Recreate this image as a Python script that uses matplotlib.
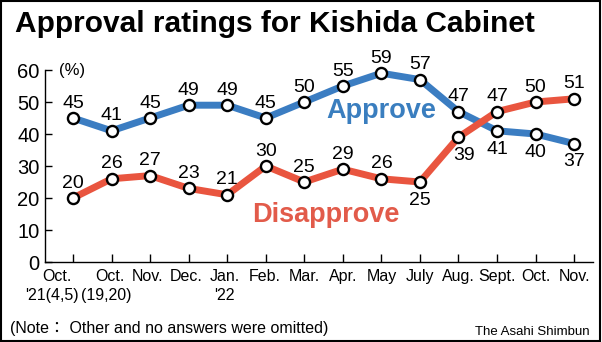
import matplotlib.pyplot as plt
from matplotlib.patches import Rectangle

plt.rcParams['font.family'] = ['Liberation Sans', 'DejaVu Sans']

months = ["Oct.", "Oct.", "Nov.", "Dec.", "Jan.", "Feb.",
          "Mar.", "Apr.", "May", "July", "Aug.", "Sept.", "Oct.", "Nov."]
month_sub = ["'21(4,5)", "(19,20)", "", "", "'22", "", "", "", "", "", "", "", "", ""]
approve = [45, 41, 45, 49, 49, 45, 50, 55, 59, 57, 47, 41, 40, 37]
disapprove = [20, 26, 27, 23, 21, 30, 25, 29, 26, 25, 39, 47, 50, 51]

# which side of the point each value label sits on (1 above, -1 below)
approve_side = [1] * 11 + [-1] * 3
disapprove_side = [1] * 9 + [-1, -1] + [1] * 3

blue = "#3b7dc2"
red = "#e9553f"

fig = plt.figure(figsize=(6.02, 3.42), dpi=100)
ax = fig.add_axes([45 / 602, 80 / 342, 548 / 602, 192 / 342])

x = list(range(len(months)))

ax.plot(x, approve, color=blue, lw=5, solid_joinstyle="round", zorder=2)
ax.plot(x, disapprove, color=red, lw=5, solid_joinstyle="round", zorder=3)
for vals in (approve, disapprove):
    ax.plot(x, vals, "o", ms=8, mfc="white", mec="black", mew=1.7,
            zorder=4, clip_on=False)

def put_labels(vals, sides, dx=None):
    for i, (v, s) in enumerate(zip(vals, sides)):
        off_x = dx[i] if dx else 0
        if s > 0:
            ax.annotate(str(v), (i, v), xytext=(off_x, 7.5), textcoords="offset points",
                        ha="center", va="baseline", fontsize=14, zorder=5)
        else:
            ax.annotate(str(v), (i, v), xytext=(off_x, -7), textcoords="offset points",
                        ha="center", va="top", fontsize=14, zorder=5)

put_labels(approve, approve_side)
dis_dx = [0] * 10 + [4, 0, 0, 0]
put_labels(disapprove, disapprove_side, dis_dx)

ax.text(8.0, 45, "Approve", color="#3a7ebf", fontsize=19.5, fontweight="bold",
        ha="center", va="baseline")
ax.text(6.57, 12.5, "Disapprove", color="#e25b4a", fontsize=19.5, fontweight="bold",
        ha="center", va="baseline")

ax.set_xlim(-0.727, 13.49)
ax.set_ylim(0, 60)
for sp in ("top", "right"):
    ax.spines[sp].set_visible(False)
ax.spines["left"].set_linewidth(1)
ax.spines["bottom"].set_linewidth(1)

ax.set_yticks(range(0, 61, 10))
ax.tick_params(axis="y", direction="in", length=5, width=1, labelsize=14.5, pad=4)
ax.set_xticks(x)
ax.tick_params(axis="x", direction="in", length=6, width=1, labelbottom=False)

# month labels below the axis (horizontal nudges in pixels)
label_dx = [-16, -2, -3, -2, -2, -1, 0, 0, 0, 0, 0, 0, 0, 0]
sub_dx = [-21, -5, 0, 0, -3, 0, 0, 0, 0, 0, 0, 0, 0, 0]
for i, (lab, sub) in enumerate(zip(months, month_sub)):
    ax.annotate(lab, (i, 0), xycoords=("data", "axes fraction"),
                xytext=(label_dx[i] * 0.72, -5), textcoords="offset points",
                ha="center", va="top", fontsize=11.5)
    if sub:
        ax.annotate(sub, (i, 0), xycoords=("data", "axes fraction"),
                    xytext=(sub_dx[i] * 0.72, -19), textcoords="offset points",
                    ha="center", va="top", fontsize=11.5)

ax.annotate("(%)", (0, 60), xycoords=("axes fraction", "data"),
            xytext=(10, 0), textcoords="offset points",
            ha="left", va="center", fontsize=12)

fig.text(15 / 602, 1 - 32 / 342, "Approval ratings for Kishida Cabinet",
         fontsize=21.5, fontweight="bold", ha="left", va="baseline")
fig.text(10 / 602, 9 / 342, "(Note\uff1a Other and no answers were omitted)",
         fontsize=11.5, ha="left", va="baseline",
         family=["Liberation Sans", "Noto Sans CJK JP", "DejaVu Sans"])
fig.text(590 / 602, 7 / 342, "The Asahi Shimbun", fontsize=9.5,
         ha="right", va="baseline")

fig.patches.append(Rectangle((0.002, 0.003), 0.995, 0.993, transform=fig.transFigure,
                             fill=False, edgecolor="black", lw=1.5))

fig.savefig("out.png", dpi=100)
